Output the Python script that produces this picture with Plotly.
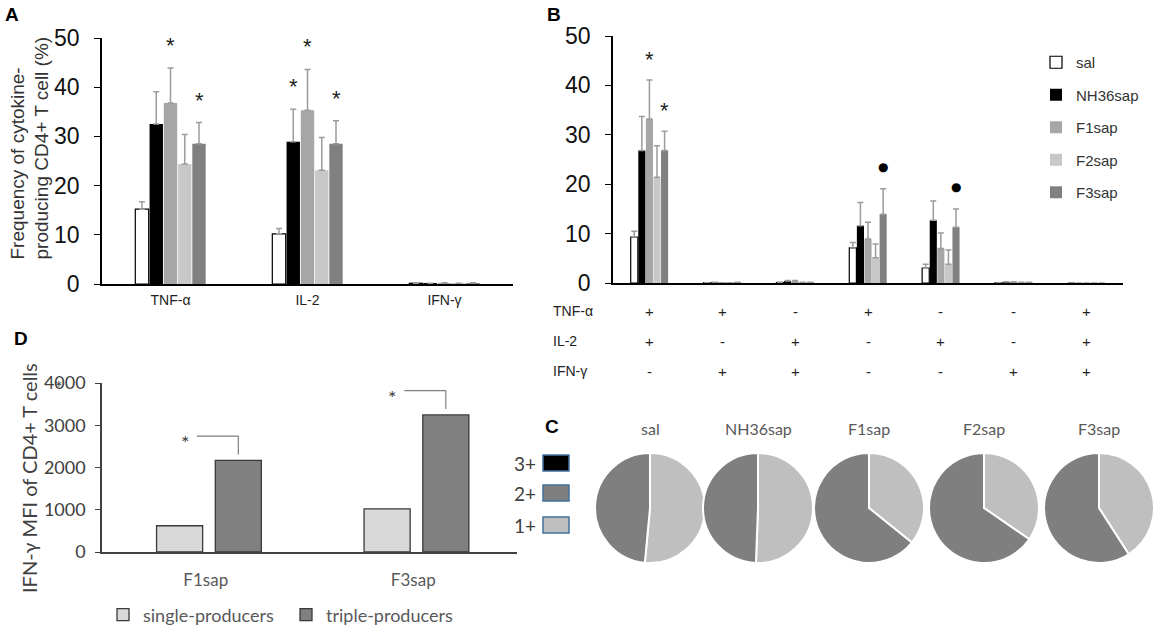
import plotly.graph_objects as go

W, H = 1158, 629

groups = ["sal", "NH36sap", "F1sap", "F2sap", "F3sap"]
group_colors = ["#ffffff", "#000000", "#a6a6a6", "#c8c8c8", "#808080"]

# panel A: frequency of cytokine-producing CD4+ T cells (%)
a_cats = ["TNF-α", "IL-2", "IFN-γ"]
a_sal = [15.2, 10.2, 0.15]
a_nh36 = [32.5, 28.9, 0.1]
a_f1 = [36.8, 35.3, 0.2]
a_f2 = [24.4, 23.1, 0.1]
a_f3 = [28.5, 28.5, 0.2]
a_sal_err = [1.5, 1.1, 0.05]
a_nh36_err = [6.6, 6.6, 0.05]
a_f1_err = [7.1, 8.3, 0.05]
a_f2_err = [6.0, 6.7, 0.05]
a_f3_err = [4.3, 4.7, 0.05]
a_stars = [(0, 2), (0, 4), (1, 1), (1, 2), (1, 4)]   # (category, group)

# panel B: cytokine combinations
tnf_signs = ["+", "+", "-", "+", "-", "-", "+"]
il2_signs = ["+", "-", "+", "-", "+", "-", "+"]
ifng_signs = ["-", "+", "+", "-", "-", "+", "+"]
b_sal = [9.3, 0.05, 0.1, 7.1, 3.0, 0.05, 0]
b_nh36 = [26.8, 0.1, 0.4, 11.6, 12.7, 0.2, 0]
b_f1 = [33.2, 0.05, 0.2, 8.9, 7.0, 0.2, 0]
b_f2 = [21.4, 0.05, 0.1, 5.1, 3.8, 0.1, 0]
b_f3 = [26.8, 0.1, 0.1, 13.9, 11.3, 0.1, 0]
b_sal_err = [1.2, 0.02, 0.05, 1.1, 0.8, 0.02, 0]
b_nh36_err = [6.9, 0.05, 0.1, 4.7, 3.9, 0.05, 0]
b_f1_err = [7.9, 0.02, 0.3, 3.4, 3.1, 0.05, 0]
b_f2_err = [6.4, 0.02, 0.05, 2.8, 2.9, 0.05, 0]
b_f3_err = [3.9, 0.05, 0.05, 5.2, 3.7, 0.05, 0]
b_stars = [(0, 2), (0, 4)]
b_dots = [(3, 4), (4, 4)]

# panel C: share of 1+, 2+, 3+ producers (%)
pie_labels = ["1+", "2+", "3+"]
pie_colors = ["#bfbfbf", "#7f7f7f", "#000000"]
c_one = [51.5, 50.6, 35.8, 34.6, 40.9]
c_two = [48.5, 49.4, 64.2, 65.4, 59.1]
c_three = [0, 0, 0, 0, 0]

# panel D: IFN-γ MFI
d_cats = ["F1sap", "F3sap"]
d_single = [621, 1022]
d_triple = [2169, 3245]

ARIAL = "Liberation Sans, Arial, sans-serif"
CAL = "Lato, Open Sans, sans-serif"

BARGAP, GROUPGAP = 0.48, 0.06


def px(x):
    return x / W


def py(y):
    return 1 - y / H


def bar_center(cat, s, n=5):
    w = 1 - BARGAP
    return cat - w / 2 + (s + 0.5) * w / n


def note(x, y, text, font, xref="paper", yref="paper", **kw):
    d = dict(x=x, y=y, xref=xref, yref=yref, text=text, showarrow=False,
             xanchor="center", yanchor="middle", font=font)
    d.update(kw)
    return d


a_vals = [a_sal, a_nh36, a_f1, a_f2, a_f3]
a_errs = [a_sal_err, a_nh36_err, a_f1_err, a_f2_err, a_f3_err]
b_vals = [b_sal, b_nh36, b_f1, b_f2, b_f3]
b_errs = [b_sal_err, b_nh36_err, b_f1_err, b_f2_err, b_f3_err]
b_cats = [t + i + g for t, i, g in zip(tnf_signs, il2_signs, ifng_signs)]

fig = go.Figure()

for i, name in enumerate(groups):
    line = dict(color="black", width=1.2 if i == 0 else 0)
    err_a = dict(type="data", symmetric=False, array=a_errs[i], arrayminus=[0] * len(a_cats),
                 color="#9c9c9c", thickness=1.5, width=3)
    fig.add_trace(go.Bar(x=a_cats, y=a_vals[i], name=name, marker=dict(color=group_colors[i], line=line),
                         error_y=err_a, xaxis="x", yaxis="y", showlegend=False, hoverinfo="skip"))
    err_b = dict(type="data", symmetric=False, array=b_errs[i], arrayminus=[0] * len(b_cats),
                 color="#9c9c9c", thickness=1.5, width=3)
    fig.add_trace(go.Bar(x=b_cats, y=b_vals[i], name=name, marker=dict(color=group_colors[i], line=line),
                         error_y=err_b, xaxis="x2", yaxis="y2", legendgroup=name, legend="legend"))

# panel D bars
fig.add_trace(go.Bar(x=d_cats, y=d_single, name="single-producers", width=0.222, offset=-0.237,
                     marker=dict(color="#d9d9d9", line=dict(color="#3a3a3a", width=1.3)),
                     xaxis="x3", yaxis="y3", legend="legend2"))
fig.add_trace(go.Bar(x=d_cats, y=d_triple, name="triple-producers", width=0.222, offset=0.046,
                     marker=dict(color="#808080", line=dict(color="#3a3a3a", width=1.3)),
                     xaxis="x3", yaxis="y3", legend="legend2"))

# panel C pies
pie_cx = [650, 758, 869, 984, 1099]
for k, name in enumerate(groups):
    cx = pie_cx[k]
    fig.add_trace(go.Pie(labels=pie_labels, values=[c_one[k], c_two[k], c_three[k]],
                         marker=dict(colors=pie_colors, line=dict(color="white", width=2)),
                         sort=False, direction="clockwise", rotation=0, textinfo="none",
                         hoverinfo="skip", showlegend=False,
                         domain=dict(x=[px(cx - 55), px(cx + 55)], y=[py(563), py(453)])))

ann = []
shapes = []

# significance marks
for c, s in a_stars:
    top = a_vals[s][c] + a_errs[s][c]
    ann.append(note(bar_center(c, s), top, "*", dict(family=ARIAL, size=22, color="#222"),
                    xref="x", yref="y", yanchor="bottom", yshift=8))
for c, s in b_stars:
    top = b_vals[s][c] + b_errs[s][c]
    ann.append(note(bar_center(c, s), top, "*", dict(family=ARIAL, size=22, color="#222"),
                    xref="x2", yref="y2", yanchor="bottom", yshift=6))
for c, s in b_dots:
    top = b_vals[s][c] + b_errs[s][c]
    ann.append(note(bar_center(c, s), top, "●", dict(family="DejaVu Sans", size=12, color="black"),
                    xref="x2", yref="y2", yshift=22))

# panel B combination table
rows = [("TNF-α", tnf_signs, 311), ("IL-2", il2_signs, 341), ("IFN-γ", ifng_signs, 371)]
for label, signs, yy in rows:
    ann.append(note(px(551), py(yy), label, dict(family=ARIAL, size=14, color="#222"), xanchor="left"))
    for j, sg in enumerate(signs):
        ann.append(note(j, py(yy), sg, dict(family=ARIAL, size=15, color="#222"), xref="x2"))

# panel D brackets
for c, v in enumerate(d_triple):
    xc = c + 0.046 + 0.111
    shapes.append(dict(type="line", xref="x3", yref="y3", x0=c - 0.043, x1=xc, y0=v + 575, y1=v + 575,
                       line=dict(color="#7f7f7f", width=1.2)))
    shapes.append(dict(type="line", xref="x3", yref="y3", x0=xc, x1=xc, y0=v + 575, y1=v + 140,
                       line=dict(color="#7f7f7f", width=1.2)))
    ann.append(note(c - 0.1, v + 575, "*", dict(family=CAL, size=20, color="#404040"),
                    xref="x3", yref="y3", yshift=-6))
ann.append(note(px(59), py(383), "*", dict(family=CAL, size=18, color="#404040"), yshift=-4))

# panel C titles and legend swatches
for k, name in enumerate(groups):
    ann.append(note(px(pie_cx[k]), py(428), name, dict(family=CAL, size=16, color="#595959")))
for lab, col, yy in zip(["3+", "2+", "1+"], ["#000000", "#7f7f7f", "#bfbfbf"], [463, 493, 525]):
    shapes.append(dict(type="rect", xref="paper", yref="paper", x0=px(543), x1=px(569),
                       y0=py(yy + 8), y1=py(yy - 8), fillcolor=col, line=dict(color="#41719c", width=1.5)))
    ann.append(note(px(538), py(yy), lab, dict(family=CAL, size=19, color="#404040"), xanchor="right"))

# axis titles
ann.append(note(px(29), py(262), "Frequency of cytokine-<br>producing CD4+ T cell (%)",
                dict(family=ARIAL, size=19, color="#333"), textangle=-90, align="left", yanchor="bottom"))
ann.append(note(px(29), py(478), "IFN-γ MFI of CD4+ T cells",
                dict(family=CAL, size=20, color="#404040"), textangle=-90))

# panel letters
for letter, xx, yy in [("A", 3, 14), ("B", 545, 14), ("D", 12, 338), ("C", 543, 426)]:
    ann.append(note(px(xx), py(yy), "<b>%s</b>" % letter, dict(family=ARIAL, size=19, color="black"),
                    xanchor="left"))

y_common = dict(range=[0, 50], dtick=10, showline=True, linecolor="black", linewidth=1.5, ticks="outside",
                ticklen=6, tickwidth=1.2, tickcolor="black", showgrid=False, zeroline=False,
                tickfont=dict(family=ARIAL, size=23, color="#111"), ticklabelstandoff=10)

fig.update_layout(
    width=W, height=H,
    margin=dict(l=0, r=0, t=0, b=0, autoexpand=False),
    paper_bgcolor="white", plot_bgcolor="white",
    barmode="group", bargap=BARGAP, bargroupgap=GROUPGAP,
    xaxis=dict(domain=[px(102), px(513)], anchor="y", showline=True, linecolor="black", linewidth=2,
               ticks="", showgrid=False, zeroline=False, ticklabelstandoff=2,
               tickfont=dict(family=ARIAL, size=14, color="#222")),
    yaxis=dict(domain=[py(284), py(38)], anchor="x", **y_common),
    xaxis2=dict(domain=[px(613), px(1123)], anchor="y2", showline=True, linecolor="black", linewidth=2,
                ticks="", showgrid=False, zeroline=False, showticklabels=False),
    yaxis2=dict(domain=[py(283), py(36)], anchor="x2", **y_common),
    xaxis3=dict(domain=[px(102), px(517)], anchor="y3", showline=True, linecolor="#404040", linewidth=1.5,
                ticks="", showgrid=False, zeroline=False, ticklabelstandoff=12,
                tickfont=dict(family=CAL, size=17, color="#595959")),
    yaxis3=dict(domain=[py(552), py(383)], anchor="x3", range=[0, 4000], dtick=1000, showline=True,
                linecolor="#404040", linewidth=1.5, ticks="outside", ticklen=5, tickcolor="#404040",
                showgrid=False, zeroline=False, ticklabelstandoff=6,
                tickfont=dict(family=CAL, size=18, color="#404040")),
    legend=dict(x=px(1036), y=py(46), xanchor="left", yanchor="top", bgcolor="rgba(0,0,0,0)",
                tracegroupgap=10, itemwidth=30, font=dict(family=ARIAL, size=15, color="#333")),
    legend2=dict(orientation="h", x=px(103), y=py(615), xanchor="left", yanchor="middle",
                 entrywidth=138, entrywidthmode="pixels",
                 bgcolor="rgba(0,0,0,0)", itemwidth=30, font=dict(family=CAL, size=18, color="#595959")),
    annotations=ann,
    shapes=shapes,
)

fig.write_html("out.html", config={"displayModeBar": False},
               post_script="document.body.style.margin='0';")
